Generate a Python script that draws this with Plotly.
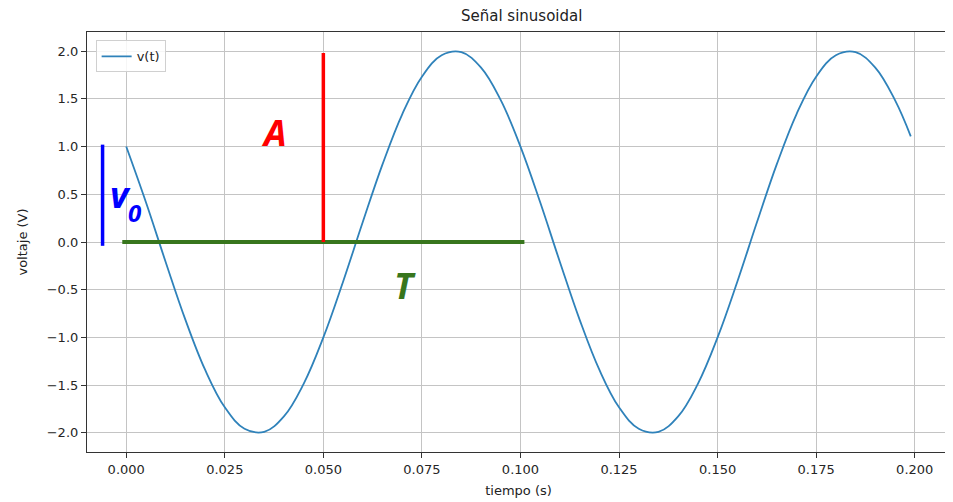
import plotly.graph_objects as go

# Sine signal samples (time in s, voltage in V)
t = [0.000, 0.005, 0.010, 0.015, 0.020, 0.025, 0.030, 0.035, 0.040, 0.045,
     0.050, 0.055, 0.060, 0.065, 0.070, 0.075, 0.080, 0.085, 0.090, 0.095,
     0.100, 0.105, 0.110, 0.115, 0.120, 0.125, 0.130, 0.135, 0.140, 0.145,
     0.150, 0.155, 0.160, 0.165, 0.170, 0.175, 0.180, 0.185, 0.190, 0.195, 0.199]
v = [1.000, 0.416, -0.209, -0.813, -1.338, -1.732, -1.956, -1.989, -1.827, -1.486,
     -1.000, -0.416, 0.209, 0.813, 1.338, 1.732, 1.956, 1.989, 1.827, 1.486,
     1.000, 0.416, -0.209, -0.813, -1.338, -1.732, -1.956, -1.989, -1.827, -1.486,
     -1.000, -0.416, 0.209, 0.813, 1.338, 1.732, 1.956, 1.989, 1.827, 1.486, 1.107]

# Marker lines: initial value v0, amplitude A, period T
v0_x = [-0.006, -0.006]
v0_y = [-0.04, 1.02]
amp_x = [0.05, 0.05]
amp_y = [0.0, 1.98]
per_x = [-0.001, 0.101]
per_y = [0.0, 0.0]

# Label positions
label_A = (0.0374, 1.15)
label_T = (0.0707, -0.455)
label_v = (-0.0015, 0.50)
label_0 = (0.0023, 0.31)

x_ticks = [0.000, 0.025, 0.050, 0.075, 0.100, 0.125, 0.150, 0.175, 0.200]
y_ticks = [-2.0, -1.5, -1.0, -0.5, 0.0, 0.5, 1.0, 1.5, 2.0]

fig = go.Figure()
fig.add_trace(go.Scatter(x=t, y=v, mode="lines", name="v(t)",
                         line=dict(color="#2f82ba", width=1.8, shape="spline", smoothing=1.1)))
fig.add_trace(go.Scatter(x=v0_x, y=v0_y, mode="lines", showlegend=False,
                         line=dict(color="#0000ff", width=3.5)))
fig.add_trace(go.Scatter(x=per_x, y=per_y, mode="lines", showlegend=False,
                         line=dict(color="#38761d", width=4)))
fig.add_trace(go.Scatter(x=amp_x, y=amp_y, mode="lines", showlegend=False,
                         line=dict(color="#ff0000", width=3.5)))

lab_font = "Open Sans, DejaVu Sans, sans-serif"
fig.add_annotation(x=label_A[0], y=label_A[1], text="<b><i>A</i></b>", showarrow=False,
                   font=dict(family=lab_font, size=36, color="#ff0000"))
fig.add_annotation(x=label_T[0], y=label_T[1], text="<b><i>T</i></b>", showarrow=False,
                   font=dict(family=lab_font, size=36, color="#38761d"))
fig.add_annotation(x=label_v[0], y=label_v[1], text="<b><i>v</i></b>", showarrow=False,
                   font=dict(family=lab_font, size=36, color="#0000ff"))
fig.add_annotation(x=label_0[0], y=label_0[1], text="<b><i>0</i></b>", showarrow=False,
                   font=dict(family=lab_font, size=24, color="#0000ff"))

axis_common = dict(showgrid=True, gridcolor="#c4c4c4", gridwidth=1, zeroline=False,
                   showline=True, linecolor="#333333", linewidth=1.2, mirror=True,
                   ticks="outside", ticklen=5, tickcolor="#333333",
                   tickfont=dict(family="DejaVu Sans", size=13, color="#262626"))

fig.update_xaxes(range=[-0.00995, 0.20895], tickvals=x_ticks, tickformat=".3f",
                 title=dict(text="tiempo (s)", font=dict(family="DejaVu Sans", size=13, color="#222"),
                            standoff=10),
                 **axis_common)
fig.update_yaxes(range=[-2.2, 2.2], tickvals=y_ticks, tickformat=".1f",
                 title=dict(text="voltaje (V)", font=dict(family="DejaVu Sans", size=13, color="#222"),
                            standoff=16),
                 **axis_common)

# page body adds an 8px offset, so the figure is sized/margined to compensate
fig.update_layout(
    width=945, height=494,
    margin=dict(l=79, r=3, t=24, b=50),
    plot_bgcolor="white", paper_bgcolor="white",
    title=dict(text="Señal sinusoidal", x=0.5436, xanchor="center", y=0.985, yanchor="middle",
               font=dict(family="DejaVu Sans", size=15, color="#222")),
    legend=dict(x=0.01, y=0.98, xanchor="left", yanchor="top",
                bgcolor="rgba(255,255,255,0.85)", bordercolor="#d0d0d0", borderwidth=1,
                font=dict(family="DejaVu Sans", size=13, color="#222")),
    showlegend=True,
)

fig.write_html("out.html")
